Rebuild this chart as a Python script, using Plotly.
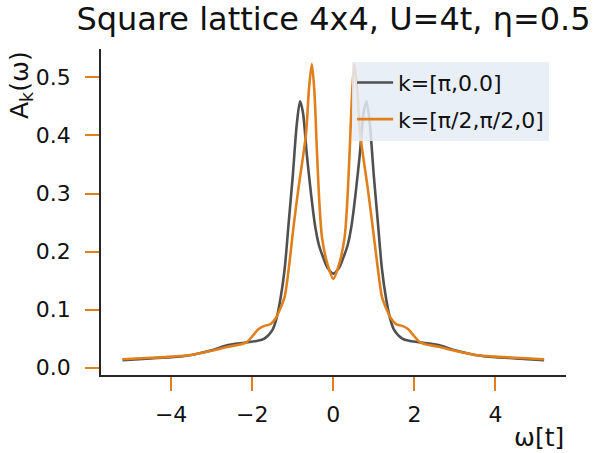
import plotly.graph_objects as go

# Spectral function A_k(omega) on a 4x4 square lattice, U=4t, eta=0.5
omega_pi0 = [-5.2, -4.5, -4.0, -3.5, -3.0, -2.6, -2.2, -1.9, -1.7, -1.5, -1.4, -1.3,
             -1.2, -1.1, -1.0, -0.9, -0.82, -0.75, -0.65, -0.55, -0.45, -0.35, -0.25,
             -0.15, 0.0, 0.15, 0.25, 0.35, 0.45, 0.55, 0.65, 0.75, 0.82, 0.9, 1.0,
             1.1, 1.2, 1.3, 1.4, 1.5, 1.7, 1.9, 2.2, 2.6, 3.0, 3.5, 4.0, 4.5, 5.2]
A_pi0 = [0.013, 0.016, 0.018, 0.022, 0.030, 0.039, 0.043, 0.046, 0.050, 0.065, 0.085, 0.120,
         0.170, 0.250, 0.330, 0.420, 0.459, 0.440, 0.365, 0.300, 0.245, 0.210, 0.190,
         0.173, 0.162, 0.173, 0.190, 0.210, 0.245, 0.300, 0.365, 0.440, 0.459, 0.420, 0.330,
         0.250, 0.170, 0.120, 0.085, 0.065, 0.050, 0.046, 0.043, 0.039, 0.030, 0.022, 0.018, 0.016, 0.013]

omega_half = [-5.2, -4.5, -4.0, -3.5, -3.0, -2.6, -2.3, -2.15, -2.0, -1.85, -1.7, -1.55,
              -1.42, -1.3, -1.2, -1.1, -0.97, -0.86, -0.74, -0.67, -0.6, -0.53, -0.47,
              -0.4, -0.34, -0.28, -0.15, 0.0, 0.15, 0.28, 0.34, 0.4, 0.47, 0.52, 0.59,
              0.66, 0.73, 0.85, 0.96, 1.1, 1.2, 1.3, 1.42, 1.55, 1.7, 1.85, 2.0, 2.15,
              2.3, 2.6, 3.0, 3.5, 4.0, 4.5, 5.2]
A_half = [0.0145, 0.017, 0.019, 0.022, 0.029, 0.036, 0.040, 0.043, 0.054, 0.066, 0.072, 0.075,
          0.085, 0.103, 0.122, 0.170, 0.249, 0.309, 0.367, 0.405, 0.480, 0.523, 0.480,
          0.367, 0.280, 0.225, 0.180, 0.153, 0.180, 0.225, 0.280, 0.367, 0.480, 0.523, 0.480,
          0.405, 0.367, 0.309, 0.249, 0.170, 0.122, 0.103, 0.085, 0.075, 0.072, 0.066, 0.054, 0.043,
          0.040, 0.036, 0.029, 0.022, 0.019, 0.017, 0.0145]

x_ticks = [-4, -2, 0, 2, 4]
y_ticks = [0.0, 0.1, 0.2, 0.3, 0.4, 0.5]

FONT = "DejaVu Sans"
GRAY = "#505050"
ORANGE = "#e07f1c"
INK = "#111111"

fig = go.Figure()
fig.add_trace(go.Scatter(x=omega_pi0, y=A_pi0, mode="lines", name="k=[π,0.0]", legendgroup="a",
                         line=dict(color=GRAY, width=2.6, shape="spline", smoothing=0.8)))
fig.add_trace(go.Scatter(x=omega_half, y=A_half, mode="lines", name="k=[π/2,π/2,0]", legendgroup="b",
                         line=dict(color=ORANGE, width=2.6, shape="spline", smoothing=0.8)))

axis_common = dict(showgrid=False, zeroline=False, showline=True, linecolor="#262626",
                   linewidth=1.6, ticks="outside", ticklen=14, tickwidth=1.5,
                   tickcolor=ORANGE, tickfont=dict(family=FONT, size=22, color=INK))

fig.update_xaxes(range=[-5.73, 5.74], tickvals=x_ticks,
                 ticktext=[f"{v}".replace("-", "−") for v in x_ticks],
                 ticklabelstandoff=5, **axis_common)
fig.update_yaxes(range=[-0.0126, 0.549], tickvals=y_ticks,
                 ticktext=[f"{v:.1f}" for v in y_ticks],
                 ticklabelstandoff=10, **axis_common)

fig.update_layout(
    width=595, height=453,
    margin=dict(l=101, r=29, t=49, b=78),
    paper_bgcolor="white", plot_bgcolor="white",
    font=dict(family=FONT, color=INK),
    title=dict(text="Square lattice 4x4, U=4t, η=0.5", x=0.5605, xanchor="center",
               y=0.984, yanchor="top", font=dict(family=FONT, size=32, color=INK)),
    legend=dict(x=0.54, y=0.961, xanchor="left", yanchor="top",
                bgcolor="rgba(229,236,246,0.85)", borderwidth=0, tracegroupgap=5,
                itemwidth=36,
                font=dict(family=FONT, size=22, color=INK)),
    annotations=[
        dict(text="A<sub>k</sub>(ω)", xref="paper", yref="paper", x=0, y=1,
             xshift=-80, yshift=-36, textangle=-90, showarrow=False,
             xanchor="center", yanchor="middle", font=dict(family=FONT, size=25, color=INK)),
        dict(text="ω[t]", xref="paper", yref="paper", x=1, y=0, yshift=-62,
             showarrow=False, xanchor="right", yanchor="middle",
             font=dict(family=FONT, size=25, color=INK)),
    ],
)

fig.write_html("out.html")
